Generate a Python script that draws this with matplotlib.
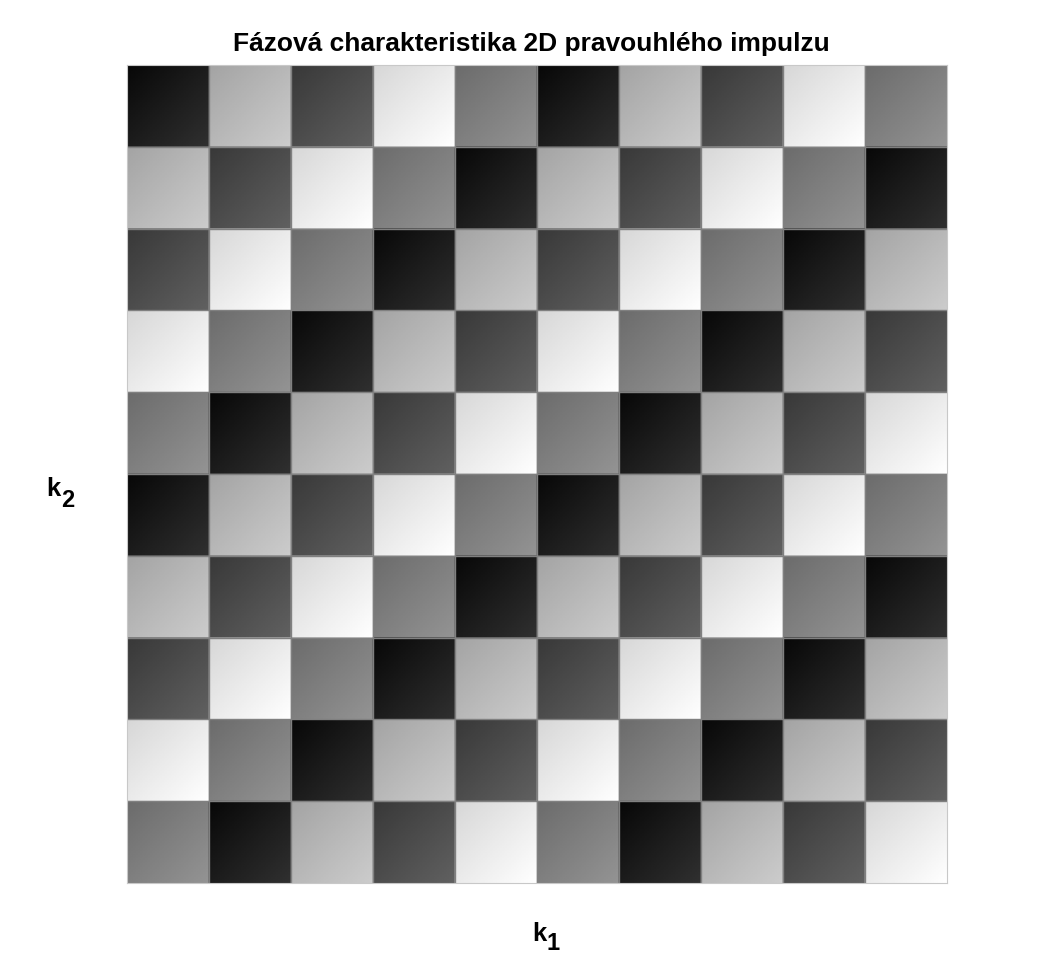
import numpy as np
import matplotlib
matplotlib.use("Agg")
import matplotlib.pyplot as plt

# Quantised phase level of each DFT bin (rows = k2 from top, columns = k1)
phase_levels = [
    [0, 3, 1, 4, 2, 0, 3, 1, 4, 2],
    [3, 1, 4, 2, 0, 3, 1, 4, 2, 0],
    [1, 4, 2, 0, 3, 1, 4, 2, 0, 3],
    [4, 2, 0, 3, 1, 4, 2, 0, 3, 1],
    [2, 0, 3, 1, 4, 2, 0, 3, 1, 4],
    [0, 3, 1, 4, 2, 0, 3, 1, 4, 2],
    [3, 1, 4, 2, 0, 3, 1, 4, 2, 0],
    [1, 4, 2, 0, 3, 1, 4, 2, 0, 3],
    [4, 2, 0, 3, 1, 4, 2, 0, 3, 1],
    [2, 0, 3, 1, 4, 2, 0, 3, 1, 4],
]
# Grey value (0..1) of each level at the dark corner of a tile
level_grey = [0.03, 0.22, 0.42, 0.64, 0.84]
# Brightness added across a tile by the lighting
shade_gain = 0.16

title_text = "Fázová charakteristika 2D pravouhlého impulzu"
xlabel_main, xlabel_sub = "k", "1"
ylabel_main, ylabel_sub = "k", "2"

plt.rcParams["font.family"] = ["Liberation Sans", "DejaVu Sans"]

levels = np.array(phase_levels)
n_rows, n_cols = levels.shape
res = 48

# Lit tile: darker towards the upper left, brighter towards the lower right
u = (np.arange(res) + 0.5) / res
tile_ramp = (u[None, :] + u[:, None]) / 2.0

base = np.array(level_grey)[levels]
img = np.kron(base, np.ones((res, res))) + shade_gain * np.tile(tile_ramp, (n_rows, n_cols))
img = np.clip(img, 0, 1)

W, H = 1063, 977
fig = plt.figure(figsize=(W / 100, H / 100), dpi=100)
ax = fig.add_axes([127 / W, 1 - 883 / H, 820 / W, 818 / H])
ax.imshow(img, cmap="gray", vmin=0, vmax=1, extent=(0, n_cols, n_rows, 0),
          interpolation="bilinear", aspect="auto")

# Thin mesh lines between tiles
for k in range(1, n_cols):
    ax.axvline(k, color="#808080", lw=1.0)
for k in range(1, n_rows):
    ax.axhline(k, color="#808080", lw=1.0)

ax.set_xlim(0, n_cols)
ax.set_ylim(n_rows, 0)
ax.set_xticks([])
ax.set_yticks([])
for s in ax.spines.values():
    s.set_color("#c8c8c8")
    s.set_linewidth(0.8)

fig.text(531 / W, 1 - 44 / H, title_text, ha="center", va="center",
         fontsize=19, fontweight="bold")

# Axis labels with full-size lowered subscripts
fig.text(532 / W, 1 - 941 / H, xlabel_main, ha="left", va="baseline",
         fontsize=18.5, fontweight="bold")
fig.text(547 / W, 1 - 950 / H, xlabel_sub, ha="left", va="baseline",
         fontsize=17, fontweight="bold")
fig.text(46 / W, 1 - 496 / H, ylabel_main, ha="left", va="baseline",
         fontsize=18.5, fontweight="bold")
fig.text(61 / W, 1 - 507 / H, ylabel_sub, ha="left", va="baseline",
         fontsize=17, fontweight="bold")

fig.savefig("out.png", dpi=100, facecolor="white")
